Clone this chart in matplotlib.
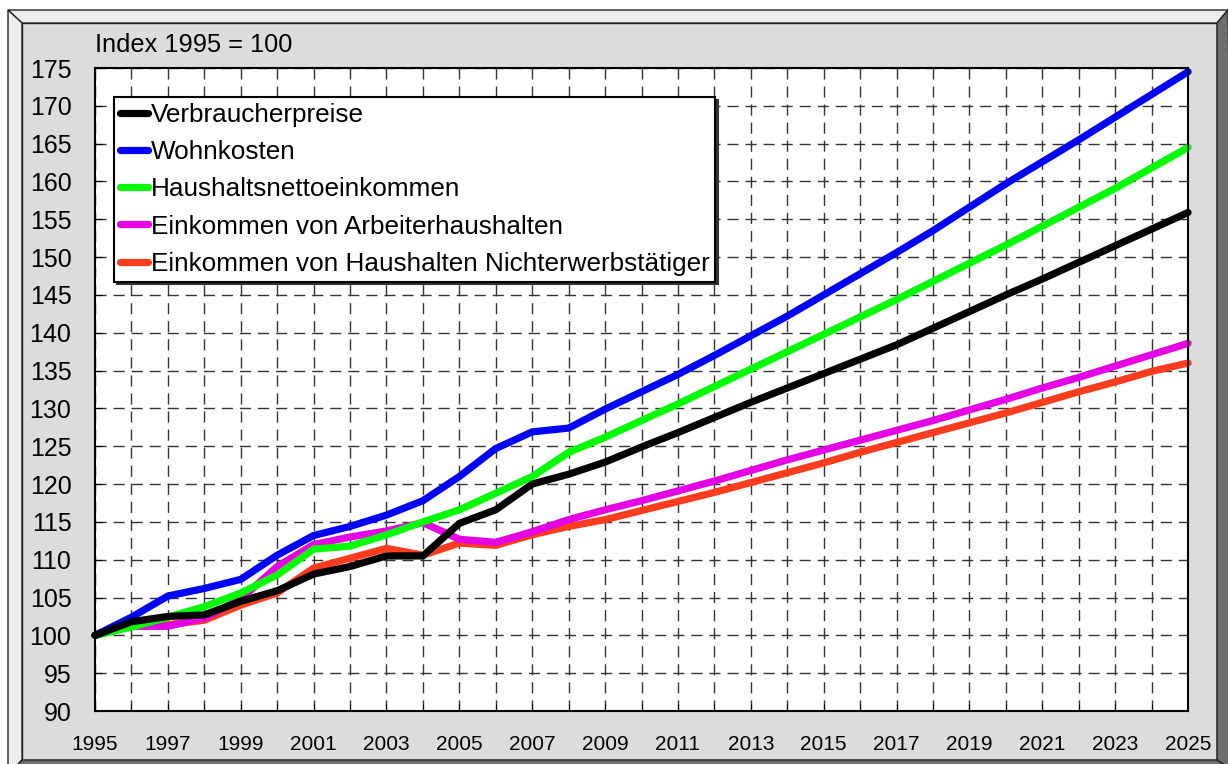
import matplotlib
matplotlib.use("Agg")
import matplotlib.pyplot as plt
from matplotlib.patches import Polygon
from matplotlib.lines import Line2D

plt.rcParams['font.family'] = ['Liberation Sans', 'DejaVu Sans']

years = list(range(1995, 2026))

verbraucherpreise = [100.0, 101.8, 102.5, 102.7, 104.5, 105.9, 108.1, 109.1, 110.5, 110.5,
                     114.8, 116.6, 120.0, 121.3, 122.9, 124.9, 126.8, 128.8, 130.8, 132.7,
                     134.6, 136.5, 138.4, 140.6, 142.8, 145.0, 147.1, 149.3, 151.5, 153.7, 155.9]
wohnkosten = [100.0, 102.4, 105.2, 106.2, 107.4, 110.6, 113.2, 114.4, 115.9, 117.8,
              121.0, 124.7, 126.9, 127.4, 129.9, 132.2, 134.5, 137.0, 139.6, 142.2,
              145.0, 147.8, 150.6, 153.5, 156.6, 159.7, 162.6, 165.5, 168.5, 171.5, 174.5]
haushaltsnetto = [100.0, 101.1, 102.4, 103.8, 105.6, 108.0, 111.4, 111.8, 113.3, 115.0,
                  116.6, 118.8, 121.0, 124.2, 126.2, 128.4, 130.6, 132.9, 135.2, 137.5,
                  139.8, 142.1, 144.4, 146.8, 149.2, 151.6, 154.1, 156.6, 159.1, 161.8, 164.5]
arbeiter = [100.0, 101.2, 101.2, 102.3, 104.8, 109.1, 112.0, 113.0, 113.8, 114.9,
            112.7, 112.3, 113.7, 115.3, 116.6, 117.8, 119.1, 120.4, 121.8, 123.2,
            124.5, 125.8, 127.1, 128.4, 129.8, 131.2, 132.7, 134.1, 135.6, 137.1, 138.6]
nichterwerb = [100.0, 101.3, 101.4, 102.0, 104.0, 105.6, 108.9, 110.2, 111.5, 110.6,
               112.2, 111.9, 113.3, 114.4, 115.3, 116.5, 117.7, 118.9, 120.2, 121.5,
               122.8, 124.2, 125.5, 126.8, 128.1, 129.4, 130.8, 132.2, 133.5, 134.9, 136.0]

labels = ["Verbraucherpreise", "Wohnkosten", "Haushaltsnettoeinkommen",
          "Einkommen von Arbeiterhaushalten",
          "Einkommen von Haushalten Nichterwerbstätiger"]
colors = ["#000000", "#0000FF", "#00FF00", "#E600E6", "#FF3C1E"]
series = [verbraucherpreise, wohnkosten, haushaltsnetto, arbeiter, nichterwerb]
zorders = [7, 6, 5, 4, 3]

x_major = list(range(1995, 2026, 2))
y_ticks = list(range(90, 176, 5))

W, H = 1228, 764
fig = plt.figure(figsize=(W / 100, H / 100), dpi=100)
fig.patch.set_facecolor("white")


def P(pts):
    return [(x / W, 1 - y / H) for x, y in pts]


# 3D frame
frame_specs = [
    ([(22, 23), (1217, 23), (1217, 760), (22, 760)], "#DCDCDC"),
    ([(8, 10), (1228, 10), (1217, 23), (22, 23)], "#EDEDED"),
    ([(8, 10), (22, 23), (22, 760), (8, 775)], "#EDEDED"),
    ([(1217, 23), (1228, 10), (1240, 775), (1217, 760)], "#6E6E6E"),
    ([(22, 760), (1217, 760), (1240, 775), (8, 775)], "#6E6E6E"),
]
for pts, fc in frame_specs:
    fig.patches.append(Polygon(P(pts), closed=True, transform=fig.transFigure,
                               facecolor=fc, edgecolor="#222222", lw=1, zorder=-10))

ax = fig.add_axes([95 / W, 1 - 711 / H, (1188 - 95) / W, (711 - 68) / H])
ax.set_zorder(5)
ax.set_facecolor("white")

for vals, c, lab, z in zip(series, colors, labels, zorders):
    ax.plot(years, vals, color=c, lw=5.2, label=lab, zorder=z,
            solid_capstyle="round", solid_joinstyle="round", clip_on=False)

ax.set_xlim(1995, 2025)
ax.set_ylim(90, 175)
ax.set_xticks(x_major)
ax.set_xticks(years, minor=True)
ax.set_yticks(y_ticks)
ax.tick_params(axis="x", which="major", labelsize=15, pad=17, direction="in", length=5)
ax.tick_params(axis="x", which="minor", direction="in", length=5)
ax.tick_params(axis="y", labelsize=18, pad=17, direction="in", length=5)
ax.grid(True, which="both", axis="x", color="#333333", lw=1, ls=(0, (8, 5)))
ax.grid(True, which="major", axis="y", color="#333333", lw=1, ls=(0, (8, 5)))
ax.set_axisbelow(True)
for s in ax.spines.values():
    s.set_color("black")
    s.set_linewidth(1.5)
    s.set_zorder(10)

fig.text(95 / W, 1 - 45 / H, "Index 1995 = 100", fontsize=18.3, va="center", ha="left")

handles = [Line2D([0], [0], color=c, lw=5.2, solid_capstyle="round") for c in colors]
leg = ax.legend(handles, labels, loc="upper left", bbox_to_anchor=(0.0174, 0.955),
                borderaxespad=0, fontsize=18.8, frameon=True, fancybox=False,
                edgecolor="black", framealpha=1, handlelength=1.1, handletextpad=0.08,
                labelspacing=0.51, borderpad=0.22,
                shadow={"facecolor": "#333333", "edgecolor": "#333333", "alpha": 1})
leg.get_frame().set_linewidth(1.5)
leg.set_zorder(20)

fig.savefig("out.png", dpi=100)
